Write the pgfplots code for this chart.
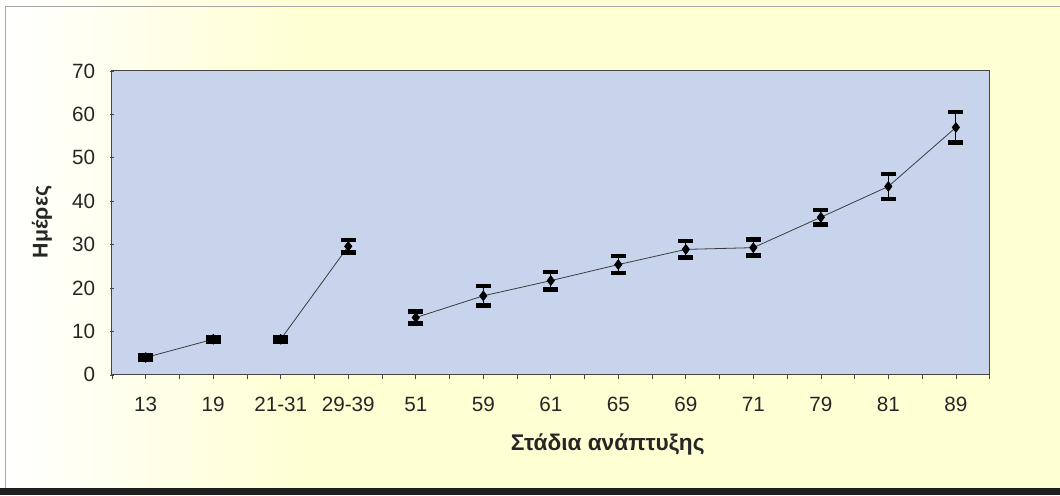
\documentclass[border=0pt]{standalone}
\usepackage{fontspec}
\setmainfont{Liberation Sans}
\usepackage{pgfplots}
\pgfplotsset{compat=1.18}
\usepackage{pgfplotstable}
\definecolor{bgyellow}{RGB}{255,255,212}
\definecolor{plotblue}{RGB}{199,212,236}
\definecolor{axisgray}{RGB}{70,70,70}
\definecolor{linegray}{RGB}{60,60,60}
\pgfplotstableread{
x y e
0 4.0 0.5
1 8.2 0.5
}\segA
\pgfplotstableread{
x y e
2 8.2 0.5
3 29.6 1.4
}\segB
\pgfplotstableread{
x y e
4 13.2 1.4
5 18.2 2.2
6 21.7 2.0
7 25.4 2.0
8 28.9 1.9
9 29.3 1.85
10 36.3 1.7
11 43.4 2.9
12 57.0 3.5
}\segC
\pgfplotsset{segstyle/.style={linegray, line width=0.6pt, mark=diamond*, mark size=3.6pt,
  mark options={black, solid},
  error bars/.cd, y dir=both, y explicit,
  error bar style={black, line width=0.8pt},
  error mark options={black, line width=3.3pt, mark size=5.6pt, rotate=90}}}
\begin{document}
\begin{tikzpicture}
% canvas 1060x495 px, 1px = 0.75pt
\fill[bgyellow] (0,0) rectangle (795pt,371.25pt);
\shade[left color=white, right color=bgyellow] (0,0) rectangle (220pt,371.25pt);
\draw[gray!70, line width=0.6pt] (3.75pt,0) -- (3.75pt,366.75pt) -- (795pt,366.75pt);
\fill[black!88] (0,0) rectangle (795pt,5.0pt);
\begin{axis}[
  at={(84pt,90pt)}, anchor=south west,
  width=658.5pt, height=228pt, scale only axis,
  xmin=-0.5, xmax=12.5, ymin=0, ymax=70,
  axis background/.style={fill=plotblue},
  axis line style={axisgray, line width=0.8pt},
  xtick={0,...,12},
  xticklabels={13,19,21-31,29-39,51,59,61,65,69,71,79,81,89},
  minor xtick={-0.5,0.5,...,12.5},
  ytick={0,10,...,70},
  tick style={axisgray, line width=0.5pt},
  major tick length=3pt, minor tick length=3pt,
  x tick style={/pgfplots/tick align=outside},
  y tick style={/pgfplots/tick align=center},
  ytick pos=left, xtick pos=bottom,
  tick label style={font=\fontsize{15.5}{17}\selectfont, text=black!85},
  yticklabel style={inner sep=0pt, anchor=east, xshift=-12.5pt},
  xticklabel style={inner sep=0pt, anchor=north, yshift=-15.5pt, text height=12pt, text depth=0pt},
  /pgf/number format/assume math mode=true,
  clip=false,
]
\addplot[segstyle] table[x=x, y=y, y error=e] {\segA};
\addplot[segstyle] table[x=x, y=y, y error=e] {\segB};
\addplot[segstyle] table[x=x, y=y, y error=e] {\segC};
\end{axis}
\node[font=\bfseries\fontsize{16}{18}\selectfont, text=black!85, rotate=90] at (31.5pt,204.75pt) {Ημέρες};
\node[font=\bfseries\fontsize{17}{19}\selectfont, text=black!85] at (456pt,37.5pt) {Στάδια ανάπτυξης};
\end{tikzpicture}
\end{document}
